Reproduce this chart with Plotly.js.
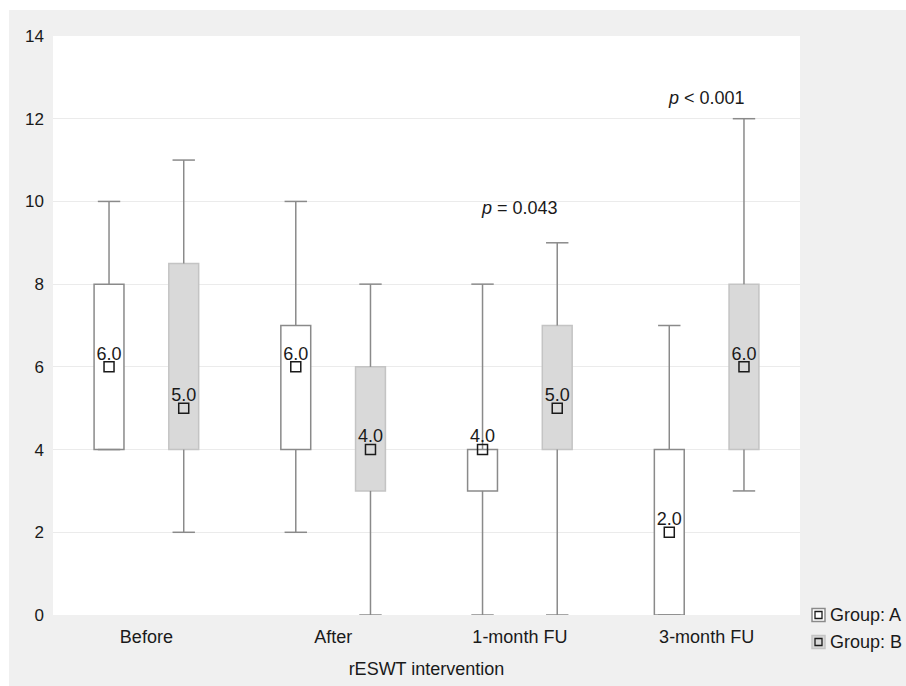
<!DOCTYPE html>
<html>
<head>
<meta charset="utf-8">
<script src="https://cdn.plot.ly/plotly-3.0.1.min.js"></script>
<style>
html, body { margin: 0; padding: 0; background: #ffffff; }
#chart { position: absolute; left: 9px; top: 10px; width: 897px; height: 676px; }
</style>
</head>
<body>
<div id="chart"></div>
<script>
// Data
const categories = ["Before", "After", "1-month FU", "3-month FU"];
const groupNames = ["Group: A", "Group: B"];

const lowerA  = [4, 2, 0, 0];
const q1A     = [4, 4, 3, 0];
const medianA = [6, 6, 4, 2];
const q3A     = [8, 7, 4, 4];
const upperA  = [10, 10, 8, 7];

const lowerB  = [2, 0, 0, 3];
const q1B     = [4, 3, 4, 4];
const medianB = [5, 4, 5, 6];
const q3B     = [8.5, 6, 7, 8];
const upperB  = [11, 8, 9, 12];

const pLabels = ["p = 0.043", "p < 0.001"];
const pCategories = ["1-month FU", "3-month FU"];
const pValuesY = [9.85, 12.5];

const yTicks = [0, 2, 4, 6, 8, 10, 12, 14];

const whiskerColor = "#8a8a8a";
const fontFam = "Liberation Sans, Arial, sans-serif";
const boxFills = ["#ffffff", "#d9d9d9"];
const boxEdges = ["#8a8a8a", "#c4c4c4"];

function groupTraces(name, og, lower, q1, median, q3, upper, fill, edge) {
  const box = {
    type: "bar", name: name, x: categories,
    y: q3.map((v, i) => v - q1[i]), base: q1,
    offsetgroup: og,
    marker: { color: fill, line: { color: edge, width: 1.5 } },
    showlegend: false, hoverinfo: "skip"
  };
  const upperWhisker = {
    type: "scatter", mode: "markers", x: categories, y: upper,
    offsetgroup: og, showlegend: false, hoverinfo: "skip",
    marker: { symbol: "line-ew", size: 16, color: whiskerColor, line: { color: whiskerColor, width: 1.5 } },
    error_y: { type: "data", symmetric: false, array: upper.map(() => 0),
               arrayminus: upper.map((v, i) => v - q3[i]), width: 0, color: whiskerColor, thickness: 1.5 }
  };
  const lowerWhisker = {
    type: "scatter", mode: "markers", x: categories, y: lower,
    offsetgroup: og, showlegend: false, hoverinfo: "skip",
    marker: { symbol: "line-ew", size: 16, color: whiskerColor, line: { color: whiskerColor, width: 1.5 } },
    error_y: { type: "data", symmetric: false, array: lower.map((v, i) => q1[i] - v),
               arrayminus: lower.map(() => 0), width: 0, color: whiskerColor, thickness: 1.5 }
  };
  const med = {
    type: "scatter", mode: "markers+text", x: categories, y: median,
    offsetgroup: og, showlegend: false, hoverinfo: "skip",
    text: median.map(v => v.toFixed(1) + "<br> "), textposition: "middle center",
    textfont: { family: fontFam, size: 18, color: "#1a1a1a" },
    marker: { symbol: "square-open", size: 10, color: "#1a1a1a", line: { width: 1.5 } }
  };
  return [box, upperWhisker, lowerWhisker, med];
}

const data = [].concat(
  groupTraces(groupNames[0], "A", lowerA, q1A, medianA, q3A, upperA, boxFills[0], boxEdges[0]),
  groupTraces(groupNames[1], "B", lowerB, q1B, medianB, q3B, upperB, boxFills[1], boxEdges[1])
);

const annotations = pLabels.map((t, i) => ({
  x: pCategories[i], y: pValuesY[i], xref: "x", yref: "y",
  text: "<i>" + t.split(" ")[0] + "</i> " + t.split(" ").slice(1).join(" "),
  showarrow: false, font: { family: fontFam, size: 18, color: "#1a1a1a" }
}));

// custom legend (icon box with a small open square, then text)
const plotW = 747, plotH = 579;
const shapes = [];
groupNames.forEach((g, k) => {
  const cy = -(k * 27) / plotH;
  const x0 = (812 - 53) / plotW, x1 = (825 - 53) / plotW, cx = (x0 + x1) / 2;
  const hy = 6.5 / plotH;
  shapes.push({ type: "rect", xref: "paper", yref: "paper", x0: x0, x1: x1, y0: cy - hy, y1: cy + hy,
    fillcolor: boxFills[k], line: { color: k === 0 ? "#8a8a8a" : "#c4c4c4", width: 1.5 } });
  shapes.push({ type: "rect", xref: "paper", yref: "paper",
    x0: cx - 3.5 / plotW, x1: cx + 3.5 / plotW, y0: cy - 3.5 / plotH, y1: cy + 3.5 / plotH,
    fillcolor: "rgba(0,0,0,0)", line: { color: "#1a1a1a", width: 1.3 } });
  annotations.push({ xref: "paper", yref: "paper", x: (828 - 53) / plotW, y: cy,
    xanchor: "left", yanchor: "middle", text: g, showarrow: false,
    font: { family: fontFam, size: 18, color: "#1a1a1a" } });
});

const layout = {
  width: 897, height: 676,
  margin: { l: 44, r: 106, t: 26, b: 71, autoexpand: false },
  paper_bgcolor: "#f0f0f0",
  plot_bgcolor: "#ffffff",
  barmode: "group", bargap: 0.2, bargroupgap: 0.6,
  scattermode: "group", scattergap: 0.2,
  font: { family: fontFam, size: 18, color: "#1a1a1a" },
  xaxis: {
    type: "category", range: [-0.5, 3.5], showgrid: false, zeroline: false,
    showline: false, ticks: "", tickfont: { size: 18 }, ticklabelstandoff: 9,
    title: { text: "rESWT intervention", font: { size: 18 }, standoff: 16 }
  },
  yaxis: {
    range: [0, 14], tickvals: yTicks, showgrid: true, gridcolor: "#ebebeb", gridwidth: 1,
    zeroline: false, showline: false, ticks: "", tickfont: { size: 17 }, ticklabelstandoff: 8
  },
  showlegend: false,
  shapes: shapes,
  annotations: annotations
};

Plotly.newPlot("chart", data, layout, { displayModeBar: false, staticPlot: true });
</script>
</body>
</html>
